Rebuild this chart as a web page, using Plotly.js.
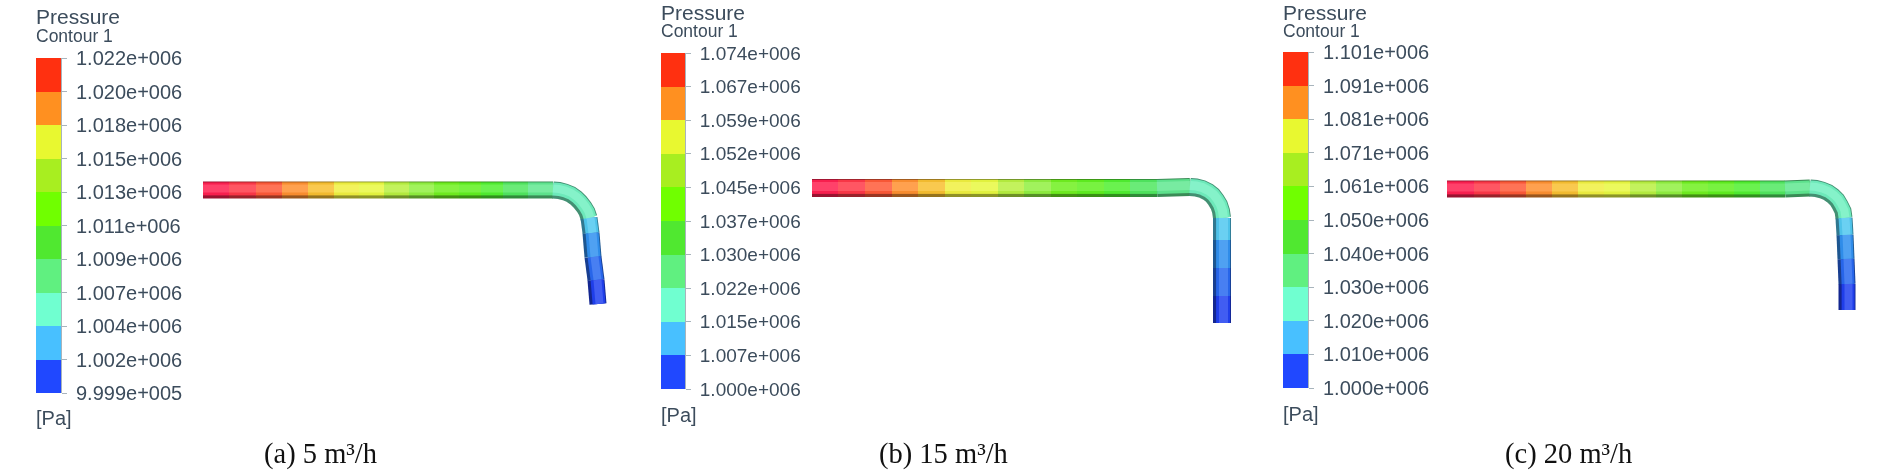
<!DOCTYPE html>
<html>
<head>
<meta charset="utf-8">
<script src="https://cdn.plot.ly/plotly-3.0.1.min.js"></script>
<style>
html,body{margin:0;padding:0;background:#fff;}
#chart{width:1890px;height:471px;}
.cartesianlayer{filter:blur(0.7px);}
.infolayer .annotation:not([data-index="3"]):not([data-index="7"]):not([data-index="11"]){filter:blur(0.6px);}
</style>
</head>
<body>
<div id="chart"></div>
<script>
// Colour legend bands, bottom to top
const legendColors = ['#2048ff','#48c0ff','#70ffd0','#60f080','#50e830','#70ff00','#a8ee20','#e8f830','#ff9020','#ff3010'];
const levelsA = ['9.999e+005','1.002e+006','1.004e+006','1.007e+006','1.009e+006','1.011e+006','1.013e+006','1.015e+006','1.018e+006','1.020e+006','1.022e+006'];
const levelsB = ['1.000e+006','1.007e+006','1.015e+006','1.022e+006','1.030e+006','1.037e+006','1.045e+006','1.052e+006','1.059e+006','1.067e+006','1.074e+006'];
const levelsC = ['1.000e+006','1.010e+006','1.020e+006','1.030e+006','1.040e+006','1.050e+006','1.061e+006','1.071e+006','1.081e+006','1.091e+006','1.101e+006'];
const captions = ['(a) 5 m³/h','(b) 15 m³/h','(c) 20 m³/h'];

// Pipe surface colours along the flow
const pipeColors = ['#ff2050','#ff3848','#ff5a38','#ff9030','#f8c030','#f0f040','#e8f840','#b8f040','#90f040','#70f020','#60f020','#50f030','#50e860','#60e890','#70f0c0','#50c8f0','#3090f0','#2868f0','#2040f0'];

// Pipe centrelines in the picture's own pixel scale, and the colour of each interval
const pipeAX = [203,229,256,282,308,334,359,384,409,434,459,481,503,528,553,559,565,571,576,580,584,587,589,591,593,596,598];
const pipeAY = [190,190,190,190,190,190,190,190,190,190,190,190,190,190,190,190.5,192,194.5,198,202,207,212,218,233,257,280,304];
const bandA  = [0,1,2,3,4,5,6,7,8,9,10,11,12,13,14,14,14,14,14,14,14,14,15,16,17,18];
const pipeBX = [812,838,865,892,918,945,971,998,1024,1051,1077,1104,1130,1157,1190,1196,1202,1208,1212.5,1216,1219,1221,1222,1222,1222,1222,1222];
const pipeBY = [188,188,188,188,188,188,188,188,188,188,188,188,188,188,187,187.5,189,192,195.5,200,205,211,218,240,268,296,323];
const bandB  = [0,1,2,3,4,5,6,7,8,9,10,11,12,13,14,14,14,14,14,14,14,14,15,16,17,18];
const pipeCX = [1447,1474,1500,1526,1552,1578,1604,1630,1656,1682,1708,1734,1760,1785,1810,1816,1822,1828,1833,1837,1840,1843,1844,1845,1846,1847,1847];
const pipeCY = [189,189,189,189,189,189,189,189,189,189,189,189,189,189,188,188.5,190,192.5,196,200,205,211,218,235,259,284,310];
const bandC  = [0,1,2,3,4,5,6,7,8,9,10,11,12,13,14,14,14,14,14,14,14,14,15,16,17,18];

const W = 1890, H = 471;
const font = 'Liberation Sans, Arial, sans-serif';
const textColor = '#3c4c5c';

const panels = [
  {levels: levelsA, bar:[36,61], top:58, bottom:393, size:20, text:[36,17,36,418], cap:320, pipe:[pipeAX,pipeAY,bandA], width:17},
  {levels: levelsB, bar:[661,685], top:53, bottom:389, size:19, text:[661,13,31,415], cap:943.5, pipe:[pipeBX,pipeBY,bandB], width:18},
  {levels: levelsC, bar:[1283,1308], top:52, bottom:388, size:20, text:[1283,13,31,414], cap:1568, pipe:[pipeCX,pipeCY,bandC], width:17}
];

function rgb(h){return [1,3,5].map(i=>parseInt(h.substr(i,2),16));}
function shade(h,f){const c=rgb(h);return 'rgb('+c.map(v=>Math.round(v*f)).join(',')+')';}
function tint(h,f){const c=rgb(h);return 'rgb('+c.map(v=>Math.round(v+(255-v)*f)).join(',')+')';}

function offsetLine(xs,ys,d){
  return xs.map((x,i)=>{
    const a=Math.max(i-1,0), b=Math.min(i+1,xs.length-1);
    const dx=xs[b]-xs[a], dy=ys[b]-ys[a], L=Math.hypot(dx,dy)||1;
    return [x+dy/L*d, ys[i]-dx/L*d];
  });
}

const traces = [];
const layout = {
  width:W, height:H, margin:{l:0,r:0,t:0,b:0},
  paper_bgcolor:'#fff', plot_bgcolor:'rgba(0,0,0,0)',
  showlegend:false, barmode:'stack', bargap:0,
  annotations:[]
};

// full-picture axes carrying the pipes
layout.xaxis4 = {domain:[0,1], range:[0,W], visible:false, fixedrange:true, anchor:'y4'};
layout.yaxis4 = {domain:[0,1], range:[H,0], visible:false, fixedrange:true, anchor:'x4'};

panels.forEach((p,k)=>{
  const n=k+1, xn='x'+(n>1?n:''), yn='y'+(n>1?n:'');
  legendColors.forEach(c=>{
    traces.push({type:'bar', x:[0], y:[1], width:[1], xaxis:xn, yaxis:yn,
      marker:{color:c, line:{width:0}}, hoverinfo:'skip'});
  });
  layout['xaxis'+(n>1?n:'')] = {domain:[p.bar[0]/W,p.bar[1]/W], range:[-0.5,0.5], visible:false, fixedrange:true, anchor:yn};
  layout['yaxis'+(n>1?n:'')] = {domain:[1-p.bottom/H,1-p.top/H], range:[0,10], side:'right', anchor:xn, fixedrange:true,
    tickmode:'array', tickvals:p.levels.map((_,i)=>i), ticktext:p.levels,
    ticks:'outside', ticklen:5, tickwidth:1, tickcolor:'#a8b4bc', ticklabelstandoff:5,
    tickfont:{family:font,size:p.size,color:textColor},
    showgrid:false, zeroline:false, showline:true, linecolor:'#a8b4bc', linewidth:1};

  const [xs,ys,band]=p.pipe, w=p.width;
  const layers=[
    {d:0,   lw:w,    col:c=>shade(c,0.6)},
    {d:1.1, lw:w-4,  col:c=>shade(c,0.97)},
    {d:1.5, lw:w-9,  col:c=>tint(c,0.15)}
  ];
  layers.forEach(l=>{
    const pts=offsetLine(xs,ys,l.d);
    let s=0;
    for(let i=1;i<=band.length;i++){
      if(i===band.length||band[i]!==band[s]){
        const seg=pts.slice(s,i+1);
        traces.push({type:'scatter',mode:'lines',xaxis:'x4',yaxis:'y4',hoverinfo:'skip',
          x:seg.map(q=>q[0]),y:seg.map(q=>q[1]),
          line:{color:l.col(pipeColors[band[s]]),width:l.lw,simplify:false}});
        s=i;
      }
    }
  });

  const note=(text,px,py,size,col,fam,anchor)=>layout.annotations.push({
    text, xref:'paper', yref:'paper', x:px/W, y:1-py/H, xanchor:anchor||'left', yanchor:'middle',
    showarrow:false, font:{family:fam||font,size,color:col||textColor}, borderpad:0, borderwidth:0, xshift:0});
  note('Pressure',p.text[0],p.text[1],21);
  note('Contour 1',p.text[0],p.text[2],17.5);
  note('[Pa]',p.text[0],p.text[3],20);
  note(captions[k],p.cap,454,28.5,'#111','Liberation Serif, Times New Roman, serif','center');
});

Plotly.newPlot('chart',traces,layout,{staticPlot:true,displayModeBar:false});
</script>
</body>
</html>
